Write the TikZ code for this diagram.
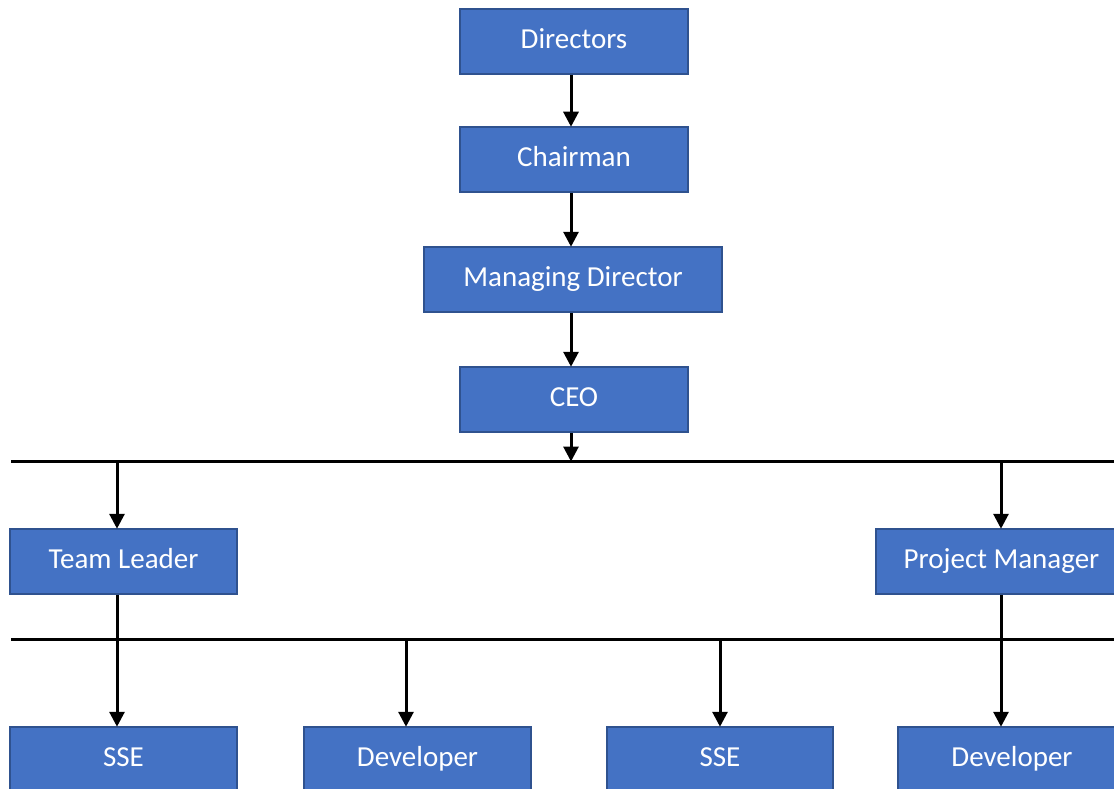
\documentclass[tikz,border=0pt]{standalone}
\usepackage{fontspec}
\setmainfont{Carlito}
\usetikzlibrary{arrows.meta}
\definecolor{boxfill}{HTML}{4472C4}
\definecolor{boxline}{HTML}{2F528F}
\tikzset{
  orgbox/.style={draw=boxline, line width=1.5pt, fill=boxfill, text=white,
    minimum height=65pt, inner sep=0pt, text height=20pt, text depth=6pt,
    font=\fontsize{29}{34}\selectfont},
  arr/.style={line width=3pt, -{Triangle[length=15pt,width=15pt]}, shorten >=-0.5pt},
  busline/.style={line width=3pt}
}
\begin{document}
\begin{tikzpicture}[x=1pt,y=-1pt]
\useasboundingbox (0,0) rectangle (1114,789);
\clip (0,0) rectangle (1114,789);
% nodes
\node[orgbox, minimum width=228pt] (dir) at (574,41.5) {Directors};
\node[orgbox, minimum width=228pt] (chair) at (574,159.5) {Chairman};
\node[orgbox, minimum width=298pt] (md) at (573,279.5) {Managing Director};
\node[orgbox, minimum width=228pt] (ceo) at (574,399.5) {CEO};
\node[orgbox, minimum width=227pt] (tl) at (123.5,561.5) {Team Leader};
\node[orgbox, minimum width=251pt] (pm) at (1001.5,561.5) {Project Manager};
\node[orgbox, minimum width=227pt] (sse1) at (123.5,759.5) {SSE};
\node[orgbox, minimum width=227pt] (dev1) at (417.5,759.5) {Developer};
\node[orgbox, minimum width=226pt] (sse2) at (720,759.5) {SSE};
\node[orgbox, minimum width=228pt] (dev2) at (1012,759.5) {Developer};
% bus coordinates
\coordinate (b1L) at (11,461);
\coordinate (b1R) at (1130,461);
\coordinate (b2L) at (11,639);
\coordinate (b2R) at (1130,639);
\coordinate (xa) at (571,0);
\coordinate (xtl) at (117,0);
\coordinate (xpm) at (1001,0);
\coordinate (xdev1) at (406,0);
\coordinate (xsse2) at (720,0);
% top chain
\draw[arr] (xa |- dir.south) -- (xa |- chair.north);
\draw[arr] (xa |- chair.south) -- (xa |- md.north);
\draw[arr] (xa |- md.south) -- (xa |- ceo.north);
\draw[arr] (xa |- ceo.south) -- (xa |- b1L);
% buses
\draw[busline] (b1L) -- (b1R);
\draw[busline] (b2L) -- (b2R);
% second level
\draw[arr] (xtl |- b1L) -- (xtl |- tl.north);
\draw[arr] (xpm |- b1L) -- (xpm |- pm.north);
% third level
\draw[arr] (xtl |- tl.south) -- (xtl |- sse1.north);
\draw[arr] (xdev1 |- b2L) -- (xdev1 |- dev1.north);
\draw[arr] (xsse2 |- b2L) -- (xsse2 |- sse2.north);
\draw[arr] (xpm |- pm.south) -- (xpm |- dev2.north);
\end{tikzpicture}
\end{document}
